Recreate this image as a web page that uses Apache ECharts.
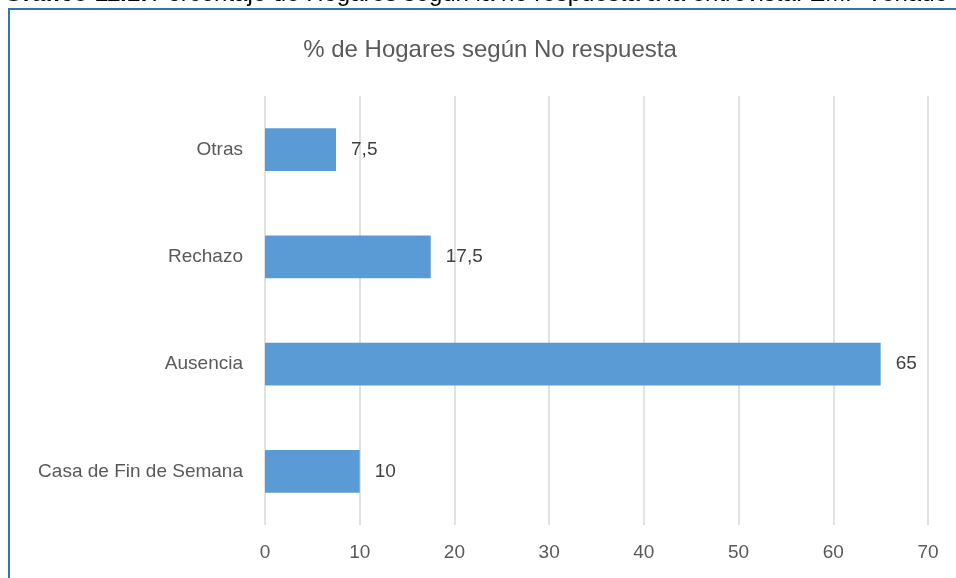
<!DOCTYPE html>
<html>
<head>
<meta charset="utf-8">
<script src="https://cdn.jsdelivr.net/npm/echarts@6/dist/echarts.min.js"></script>
<style>
html,body{margin:0;padding:0;background:#fff;}
#chart{width:956px;height:578px;}
</style>
</head>
<body>
<div id="chart"></div>
<script>
// datos del grafico
var categorias = ['Casa de Fin de Semana', 'Ausencia', 'Rechazo', 'Otras'];
var valores = [10, 65, 17.5, 7.5];
var tituloGrafico = '% de Hogares según No respuesta';
var leyendaSuperior = 'Porcentaje de Hogares según la no respuesta a la entrevista. EMF Venado Tuerto';

var fuente = '"Liberation Sans", Arial, sans-serif';

var myChart = echarts.init(document.getElementById('chart'));
var option = {
    backgroundColor: '#fff',
    animation: false,
    title: {
        text: tituloGrafico,
        left: 485,
        textAlign: 'center',
        top: 33,
        textStyle: { fontFamily: fuente, fontSize: 24, fontWeight: 'normal', color: '#595959' }
    },
    graphic: [
        {
            type: 'rect',
            shape: { x: 9, y: 9, width: 1000, height: 700 },
            style: { fill: 'none', stroke: '#2E75B6', lineWidth: 2 }
        },
        {
            type: 'text',
            left: 4,
            top: -18,
            style: {
                rich: {
                    b: { fontFamily: fuente, fontSize: 24, fontWeight: 'bold', fill: '#000' },
                    n: { fontFamily: fuente, fontSize: 24, fill: '#000' }
                },
                text: '{b|Gráfico 11.1:} {n|' + leyendaSuperior + '}'
            }
        }
    ],
    grid: { left: 265, right: 28, top: 96, bottom: 53 },
    xAxis: {
        type: 'value',
        min: 0,
        max: 70,
        interval: 10,
        axisLine: { show: false },
        axisTick: { show: false },
        splitLine: { lineStyle: { color: '#D9D9D9', width: 1.5 } },
        axisLabel: { margin: 18, fontFamily: fuente, fontSize: 19, color: '#595959' }
    },
    yAxis: {
        type: 'category',
        data: categorias,
        axisLine: { show: false },
        axisTick: { show: false },
        axisLabel: { margin: 22, fontFamily: fuente, fontSize: 19, color: '#595959' }
    },
    series: [
        {
            type: 'bar',
            data: valores,
            barWidth: '40%',
            itemStyle: { color: '#5B9BD5' },
            label: {
                show: true,
                position: 'right',
                distance: 15,
                fontFamily: fuente,
                fontSize: 19,
                color: '#404040',
                formatter: function (p) { return String(p.value).replace('.', ','); }
            }
        }
    ]
};
myChart.setOption(option);
</script>
</body>
</html>
